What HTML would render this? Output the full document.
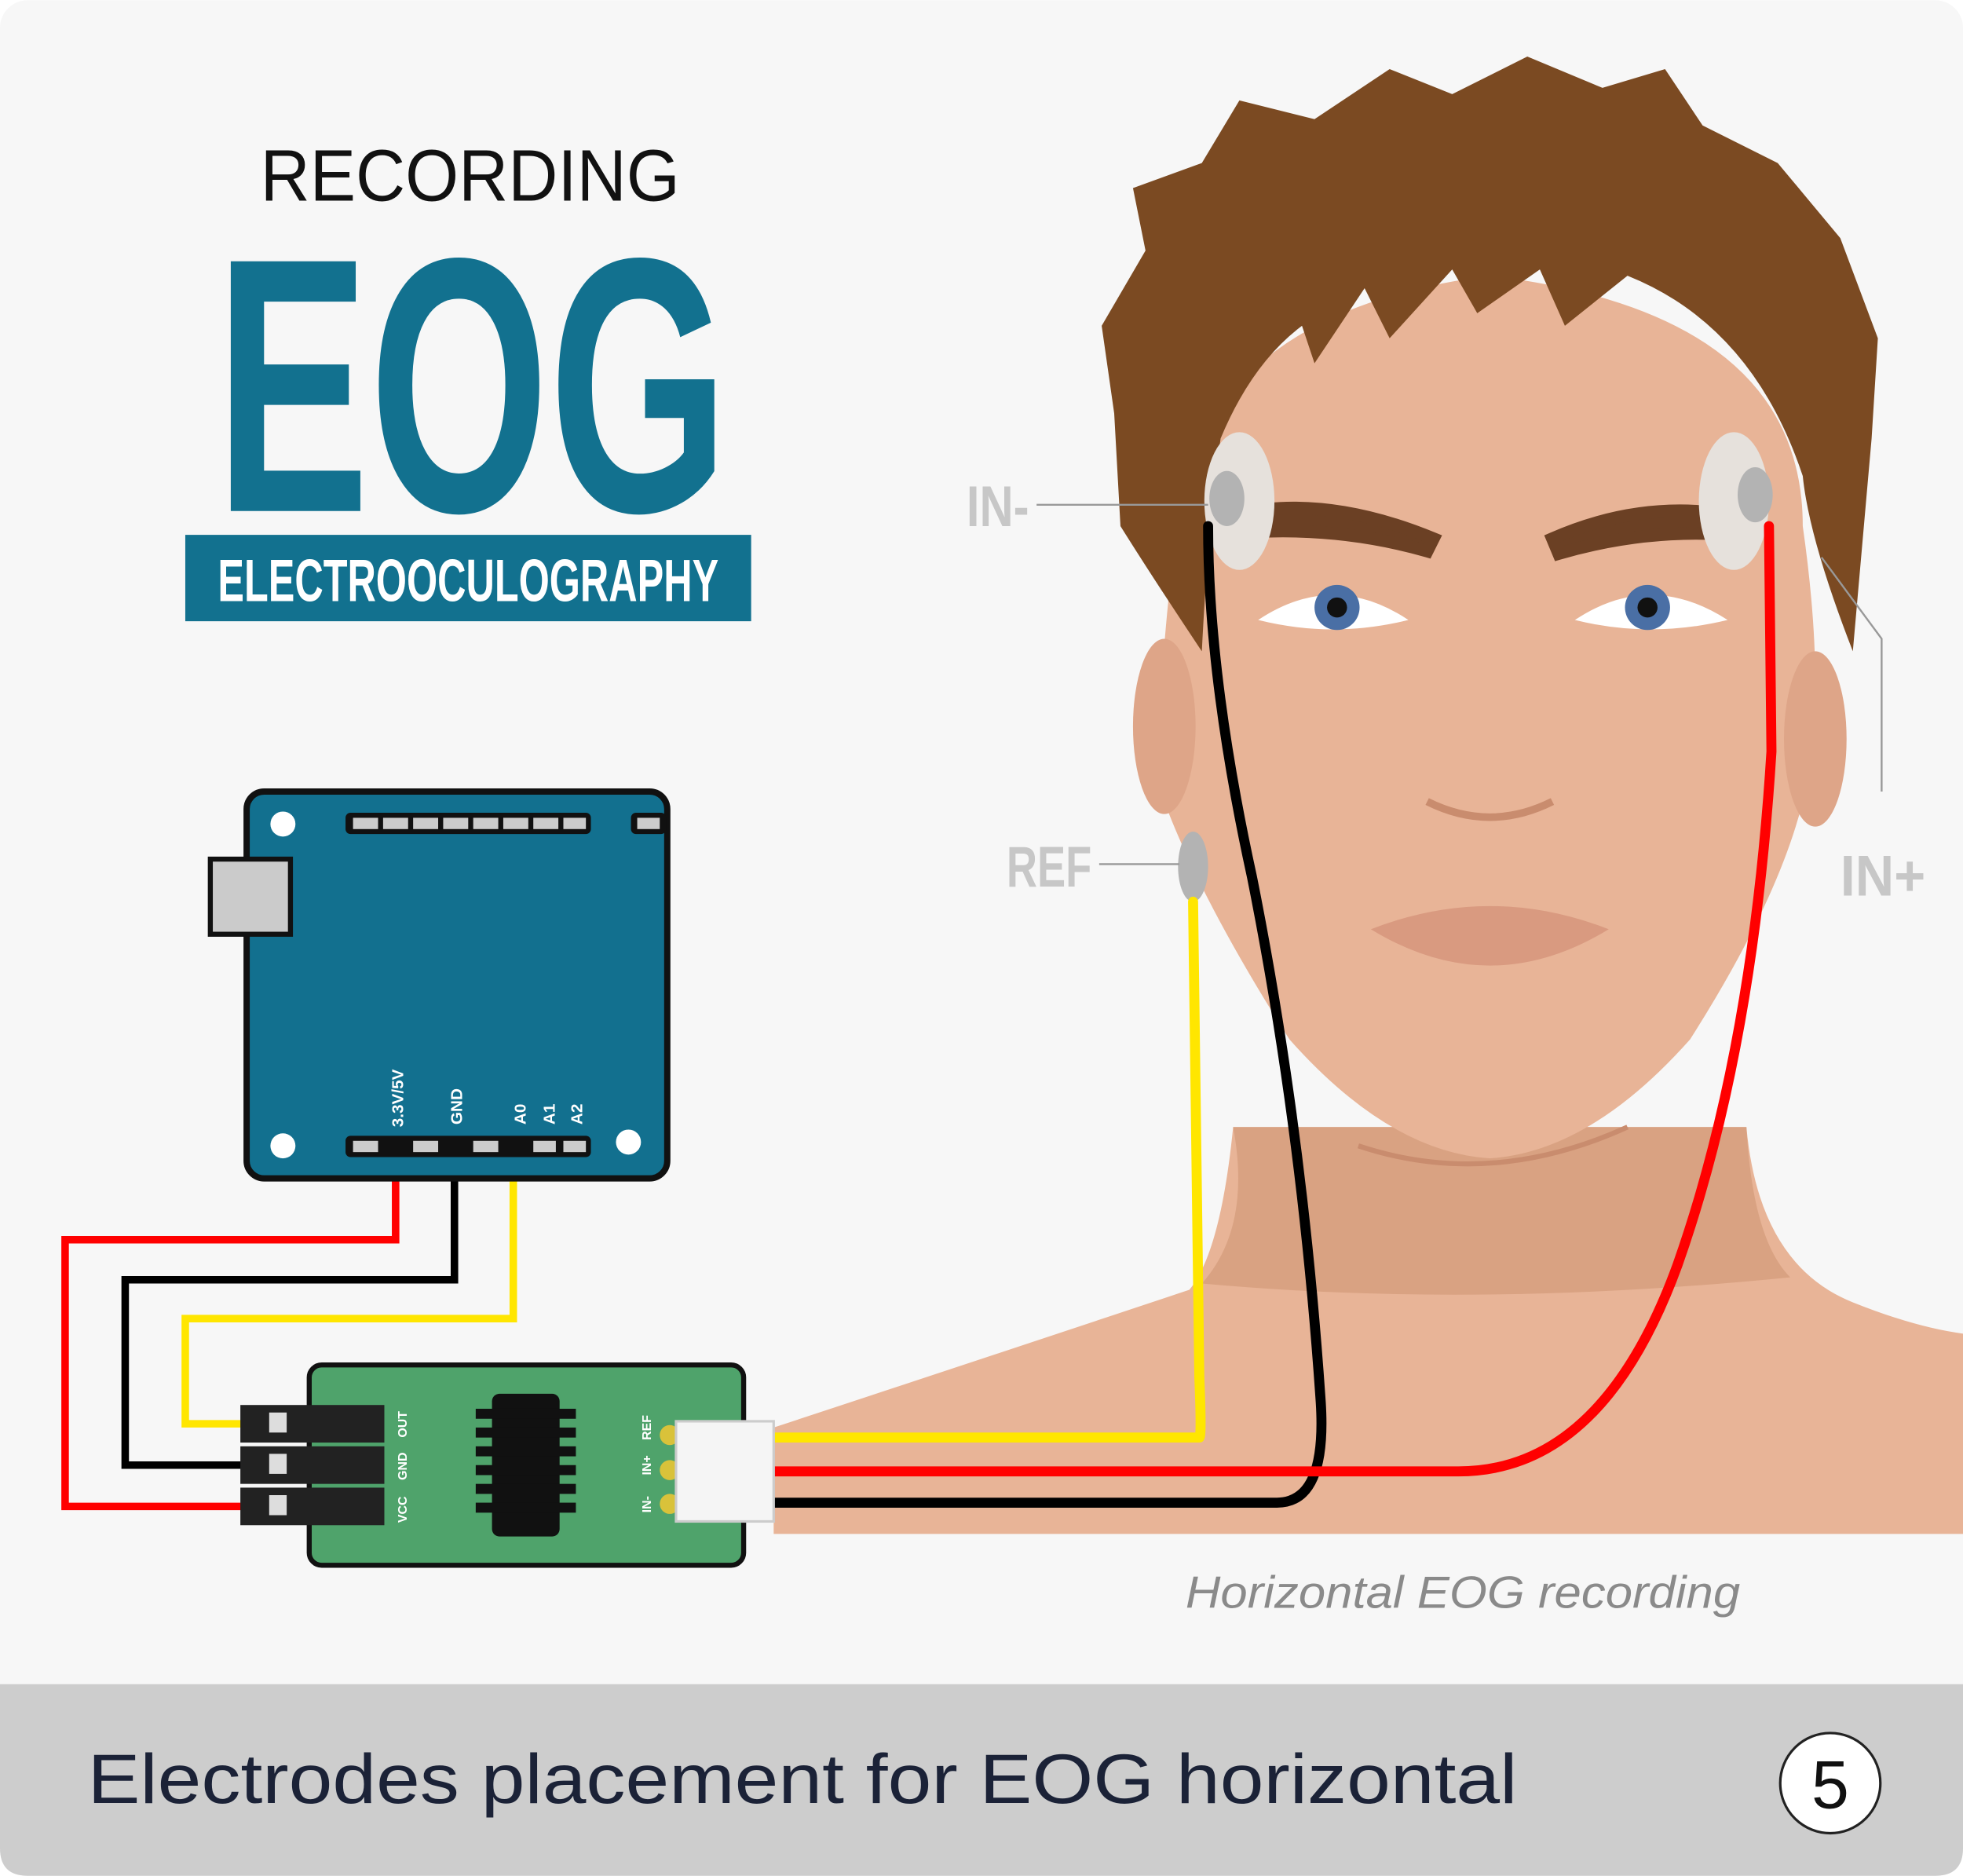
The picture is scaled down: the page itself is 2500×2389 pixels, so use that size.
<!DOCTYPE html>
<html><head><meta charset="utf-8"><style>
html,body{margin:0;padding:0;background:#fff}
svg{display:block}
text{font-family:"Liberation Sans",sans-serif}
</style></head><body>
<svg width="2500" height="2389" viewBox="0 0 1568 1498" xmlns="http://www.w3.org/2000/svg">
<rect x="0" y="0" width="1568" height="1498" rx="22" fill="#f7f7f7"/>
<path d="M0 1345 H1568 V1476 Q1568 1498 1546 1498 H22 Q0 1498 0 1476 Z" fill="#cdcdcd"/>
<text x="70" y="1440" font-size="56" fill="#1b2237" textLength="1142" lengthAdjust="spacingAndGlyphs">Electrodes placement for EOG horizontal</text>
<circle cx="1462" cy="1424" r="40" fill="#fff" stroke="#222" stroke-width="2"/>
<text x="1462" y="1444" font-size="54" text-anchor="middle" fill="#111">5</text>

<text x="208" y="160" font-size="58" fill="#111" textLength="335" lengthAdjust="spacingAndGlyphs">RECORDING</text>
<text x="172" y="408" font-size="290" font-weight="bold" fill="#12718f" textLength="410" lengthAdjust="spacingAndGlyphs">EOG</text>
<rect x="148" y="427" width="452" height="69" fill="#12718f"/>
<text x="374" y="480" font-size="48" font-weight="bold" fill="#fff" text-anchor="middle" textLength="400" lengthAdjust="spacingAndGlyphs">ELECTROOCULOGRAPHY</text>

<g>
<path d="M618 1140 Q800 1080 950 1030 Q975 1000 985 900 L1395 900 Q1405 1010 1480 1040 Q1530 1060 1568 1065 V1225 H618 Z" fill="#e8b497"/>
<path d="M985 900 Q1000 980 960 1025 Q1180 1045 1430 1020 Q1400 990 1395 900 Z" fill="#d9a282"/>
<path d="M940 420 Q920 580 930 640 Q960 720 1030 830 Q1110 920 1190 925 Q1270 920 1350 830 Q1420 720 1440 640 Q1460 560 1440 420 Q1440 250 1190 220 Q960 250 940 420 Z" fill="#e8b497"/>
<ellipse cx="930" cy="580" rx="25" ry="70" fill="#dea588"/>
<ellipse cx="1450" cy="590" rx="25" ry="70" fill="#dea588"/>
<path d="M1085 915 Q1190 950 1300 900" stroke="#c98c6e" stroke-width="4" fill="none"/>
<path d="M890 330 L880 260 L915 200 L905 150 L960 130 L990 80 L1050 95 L1110 55 L1160 75 L1220 45 L1280 70 L1330 55 L1360 100 L1420 130 L1470 190 L1500 270 L1495 350 L1480 520 Q1445 430 1440 380 Q1400 260 1300 220 L1250 260 L1230 215 L1180 250 L1160 215 L1110 270 L1090 230 L1050 290 L1040 260 Q1000 290 975 350 Q965 420 960 520 Q920 460 895 420 Z" fill="#7b4a22"/>
<path d="M990 410 Q1060 395 1145 430 L1140 440 Q1070 420 995 425 Z" fill="#6b4024" stroke="#6b4024" stroke-width="10"/>
<path d="M1240 430 Q1320 395 1400 415 L1395 428 Q1320 420 1245 442 Z" fill="#6b4024" stroke="#6b4024" stroke-width="10"/>
<path d="M1005 495 Q1065 455 1125 495 Q1065 510 1005 495 Z" fill="#fff"/>
<circle cx="1068" cy="485" r="18" fill="#4a6fa5"/><circle cx="1068" cy="485" r="8" fill="#111"/>
<path d="M1258 495 Q1318 455 1380 495 Q1318 510 1258 495 Z" fill="#fff"/>
<circle cx="1316" cy="485" r="18" fill="#4a6fa5"/><circle cx="1316" cy="485" r="8" fill="#111"/>
<path d="M1140 640 Q1190 665 1240 640" stroke="#c98c6e" stroke-width="6" fill="none"/>
<path d="M1095 742 Q1190 705 1285 742 Q1190 800 1095 742 Z" fill="#d99a80"/>
</g>
<ellipse cx="990" cy="400" rx="28" ry="55" fill="#e6e1dc"/>
<ellipse cx="980" cy="398" rx="14" ry="22" fill="#b3b3b3"/>
<ellipse cx="1385" cy="400" rx="28" ry="55" fill="#e6e1dc"/>
<ellipse cx="1402" cy="395" rx="14" ry="22" fill="#b3b3b3"/>
<ellipse cx="953" cy="692" rx="12" ry="28" fill="#b3b3b3"/>
<g fill="#c7c7c7" font-weight="bold" font-size="46">
<text x="772" y="420" textLength="50" lengthAdjust="spacingAndGlyphs">IN-</text>
<text x="804" y="708" textLength="68" lengthAdjust="spacingAndGlyphs">REF</text>
<text x="1470" y="715" textLength="68" lengthAdjust="spacingAndGlyphs">IN+</text>
</g>
<g stroke="#999" stroke-width="1.5" fill="none">
<line x1="828" y1="403" x2="965" y2="403"/><line x1="878" y1="690" x2="942" y2="690"/>
<path d="M1455 445 L1503 510 V632"/>
</g>
<g fill="none" stroke-width="8" stroke-linecap="round">
<path d="M618 1148 H958 Q960 1148 958 1100 L953 720" stroke="#ffe600"/>
<path d="M618 1200 H1020 Q1060 1200 1055 1120 Q1040 900 1000 700 Q965 540 965 420" stroke="#000"/>
<path d="M618 1175 H1165 Q1280 1175 1340 1010 Q1400 840 1415 600 L1413 420" stroke="#ff0000"/>
</g>
<text x="947" y="1284" font-size="36" font-style="italic" fill="#8a8a8a" textLength="443" lengthAdjust="spacingAndGlyphs">Horizontal EOG recording</text>

<g fill="none" stroke-width="6">
<path d="M316 915 V990 H52 V1203 H195" stroke="#ff0000"/>
<path d="M363 915 V1022 H100 V1170 H195" stroke="#000"/>
<path d="M410 915 V1053 H148 V1137 H195" stroke="#ffe600"/>
</g>

<g>
<rect x="197" y="632" width="336" height="309" rx="14" fill="#12708f" stroke="#111" stroke-width="5"/>
<rect x="168" y="686" width="64" height="60" fill="#cbcbcb" stroke="#111" stroke-width="4"/>
<circle cx="226" cy="658" r="10" fill="#fff"/><circle cx="226" cy="915" r="10" fill="#fff"/><circle cx="502" cy="912" r="10" fill="#fff"/>
<rect x="276" y="649" width="196" height="17" rx="4" fill="#111"/>
<rect x="504" y="649" width="28" height="17" rx="4" fill="#111"/>
<rect x="276" y="907" width="196" height="17" rx="4" fill="#111"/>
<g fill="#ccc">
<rect x="282" y="653" width="20" height="9"/><rect x="306" y="653" width="20" height="9"/><rect x="330" y="653" width="20" height="9"/><rect x="354" y="653" width="20" height="9"/><rect x="378" y="653" width="20" height="9"/><rect x="402" y="653" width="20" height="9"/><rect x="426" y="653" width="20" height="9"/><rect x="450" y="653" width="18" height="9"/><rect x="509" y="653" width="18" height="9"/>
<rect x="282" y="911" width="20" height="9"/><rect x="330" y="911" width="20" height="9"/><rect x="378" y="911" width="20" height="9"/><rect x="426" y="911" width="18" height="9"/><rect x="450" y="911" width="18" height="9"/>
</g>
<g fill="#fff" font-size="13" font-weight="bold">
<text transform="translate(322,900) rotate(-90)">3.3V/5V</text>
<text transform="translate(369,898) rotate(-90)">GND</text>
<text transform="translate(420,898) rotate(-90)">A0</text>
<text transform="translate(443,898) rotate(-90)">A1</text>
<text transform="translate(465,898) rotate(-90)">A2</text>
</g>
</g>

<g>
<rect x="247" y="1090" width="347" height="160" rx="10" fill="#4fa36b" stroke="#111" stroke-width="4"/>
<rect x="192" y="1122" width="115" height="30" fill="#222"/><rect x="192" y="1155" width="115" height="30" fill="#222"/><rect x="192" y="1188" width="115" height="30" fill="#222"/>
<g fill="#ddd"><rect x="215" y="1128" width="14" height="16"/><rect x="215" y="1161" width="14" height="16"/><rect x="215" y="1194" width="14" height="16"/></g>
<rect x="393" y="1113" width="54" height="114" rx="6" fill="#111"/>
<g fill="#111"><rect x="380" y="1125" width="80" height="8"/><rect x="380" y="1140" width="80" height="8"/><rect x="380" y="1155" width="80" height="8"/><rect x="380" y="1170" width="80" height="8"/><rect x="380" y="1185" width="80" height="8"/><rect x="380" y="1200" width="80" height="8"/></g>
<g fill="#fff" font-size="10" font-weight="bold">
<text transform="translate(325,1148) rotate(-90)">OUT</text>
<text transform="translate(325,1182) rotate(-90)">GND</text>
<text transform="translate(325,1216) rotate(-90)">VCC</text>
<text transform="translate(520,1150) rotate(-90)">REF</text>
<text transform="translate(520,1178) rotate(-90)">IN+</text>
<text transform="translate(520,1208) rotate(-90)">IN-</text>
</g>
<g fill="#d9c23a"><circle cx="535" cy="1146" r="8"/><circle cx="535" cy="1174" r="8"/><circle cx="535" cy="1201" r="8"/></g>
<rect x="540" y="1135" width="78" height="80" fill="#f5f5f5" stroke="#ccc" stroke-width="2"/>
</g>
</svg>
</body></html>
